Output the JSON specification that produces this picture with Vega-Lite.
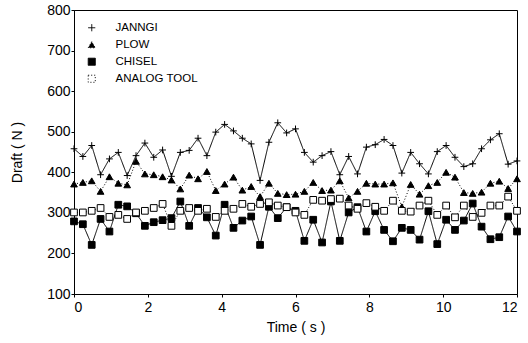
{
  "$schema": "https://vega.github.io/schema/vega-lite/v6.json",
  "width": 443,
  "height": 284,
  "autosize": "none",
  "padding": {"left": 74, "top": 10, "right": 11, "bottom": 49},
  "background": "white",
  "config": {
    "font": "Liberation Sans",
    "view": {"stroke": "black", "strokeWidth": 1},
    "axis": {
      "grid": false,
      "domainColor": "black",
      "tickColor": "black",
      "labelColor": "black",
      "titleColor": "black",
      "labelFont": "Liberation Sans",
      "titleFont": "Liberation Sans",
      "labelFontSize": 14,
      "titleFontSize": 14,
      "titleFontWeight": "normal",
      "tickSize": 3
    },
    "legend": {
      "title": null,
      "orient": "top-left",
      "offset": 10,
      "labelFont": "Liberation Sans",
      "labelFontSize": 11.5,
      "labelColor": "black",
      "symbolStrokeColor": "black",
      "symbolStrokeWidth": 1,
      "symbolSize": 50,
      "rowPadding": 4,
      "labelOffset": 18,
      "padding": 2
    }
  },
  "data": {
    "values": [
      {"t":0,"s":"JANNGI","v":458},{"t":0.24,"s":"JANNGI","v":439},{"t":0.48,"s":"JANNGI","v":466},{"t":0.72,"s":"JANNGI","v":394},{"t":0.96,"s":"JANNGI","v":433},{"t":1.2,"s":"JANNGI","v":449},{"t":1.44,"s":"JANNGI","v":392},{"t":1.68,"s":"JANNGI","v":441},{"t":1.92,"s":"JANNGI","v":472},{"t":2.16,"s":"JANNGI","v":437},{"t":2.4,"s":"JANNGI","v":455},{"t":2.64,"s":"JANNGI","v":390},{"t":2.88,"s":"JANNGI","v":449},{"t":3.12,"s":"JANNGI","v":454},{"t":3.36,"s":"JANNGI","v":484},{"t":3.6,"s":"JANNGI","v":441},{"t":3.84,"s":"JANNGI","v":499},{"t":4.08,"s":"JANNGI","v":518},{"t":4.32,"s":"JANNGI","v":502},{"t":4.56,"s":"JANNGI","v":484},{"t":4.8,"s":"JANNGI","v":470},{"t":5.04,"s":"JANNGI","v":380},{"t":5.28,"s":"JANNGI","v":474},{"t":5.52,"s":"JANNGI","v":522},{"t":5.76,"s":"JANNGI","v":497},{"t":6,"s":"JANNGI","v":507},{"t":6.24,"s":"JANNGI","v":449},{"t":6.48,"s":"JANNGI","v":425},{"t":6.72,"s":"JANNGI","v":441},{"t":6.96,"s":"JANNGI","v":451},{"t":7.2,"s":"JANNGI","v":394},{"t":7.44,"s":"JANNGI","v":439},{"t":7.68,"s":"JANNGI","v":396},{"t":7.92,"s":"JANNGI","v":462},{"t":8.16,"s":"JANNGI","v":468},{"t":8.4,"s":"JANNGI","v":481},{"t":8.64,"s":"JANNGI","v":466},{"t":8.88,"s":"JANNGI","v":398},{"t":9.12,"s":"JANNGI","v":449},{"t":9.36,"s":"JANNGI","v":421},{"t":9.6,"s":"JANNGI","v":396},{"t":9.84,"s":"JANNGI","v":451},{"t":10.08,"s":"JANNGI","v":466},{"t":10.32,"s":"JANNGI","v":437},{"t":10.56,"s":"JANNGI","v":414},{"t":10.8,"s":"JANNGI","v":421},{"t":11.04,"s":"JANNGI","v":458},{"t":11.28,"s":"JANNGI","v":480},{"t":11.52,"s":"JANNGI","v":495},{"t":11.76,"s":"JANNGI","v":420},{"t":12,"s":"JANNGI","v":428},
      {"t":0,"s":"PLOW","v":371},{"t":0.24,"s":"PLOW","v":375},{"t":0.48,"s":"PLOW","v":379},{"t":0.72,"s":"PLOW","v":353},{"t":0.96,"s":"PLOW","v":389},{"t":1.2,"s":"PLOW","v":373},{"t":1.44,"s":"PLOW","v":369},{"t":1.68,"s":"PLOW","v":427},{"t":1.92,"s":"PLOW","v":396},{"t":2.16,"s":"PLOW","v":394},{"t":2.4,"s":"PLOW","v":389},{"t":2.64,"s":"PLOW","v":381},{"t":2.88,"s":"PLOW","v":359},{"t":3.12,"s":"PLOW","v":393},{"t":3.36,"s":"PLOW","v":384},{"t":3.6,"s":"PLOW","v":402},{"t":3.84,"s":"PLOW","v":355},{"t":4.08,"s":"PLOW","v":371},{"t":4.32,"s":"PLOW","v":388},{"t":4.56,"s":"PLOW","v":356},{"t":4.8,"s":"PLOW","v":365},{"t":5.04,"s":"PLOW","v":340},{"t":5.28,"s":"PLOW","v":373},{"t":5.52,"s":"PLOW","v":348},{"t":5.76,"s":"PLOW","v":345},{"t":6,"s":"PLOW","v":346},{"t":6.24,"s":"PLOW","v":353},{"t":6.48,"s":"PLOW","v":375},{"t":6.72,"s":"PLOW","v":355},{"t":6.96,"s":"PLOW","v":356},{"t":7.2,"s":"PLOW","v":379},{"t":7.44,"s":"PLOW","v":337},{"t":7.68,"s":"PLOW","v":353},{"t":7.92,"s":"PLOW","v":373},{"t":8.16,"s":"PLOW","v":371},{"t":8.4,"s":"PLOW","v":371},{"t":8.64,"s":"PLOW","v":374},{"t":8.88,"s":"PLOW","v":315},{"t":9.12,"s":"PLOW","v":370},{"t":9.36,"s":"PLOW","v":346},{"t":9.6,"s":"PLOW","v":367},{"t":9.84,"s":"PLOW","v":375},{"t":10.08,"s":"PLOW","v":400},{"t":10.32,"s":"PLOW","v":388},{"t":10.56,"s":"PLOW","v":350},{"t":10.8,"s":"PLOW","v":348},{"t":11.04,"s":"PLOW","v":351},{"t":11.28,"s":"PLOW","v":373},{"t":11.52,"s":"PLOW","v":378},{"t":11.76,"s":"PLOW","v":360},{"t":12,"s":"PLOW","v":384},
      {"t":0,"s":"CHISEL","v":279},{"t":0.24,"s":"CHISEL","v":272},{"t":0.48,"s":"CHISEL","v":221},{"t":0.72,"s":"CHISEL","v":285},{"t":0.96,"s":"CHISEL","v":254},{"t":1.2,"s":"CHISEL","v":320},{"t":1.44,"s":"CHISEL","v":316},{"t":1.68,"s":"CHISEL","v":299},{"t":1.92,"s":"CHISEL","v":268},{"t":2.16,"s":"CHISEL","v":277},{"t":2.4,"s":"CHISEL","v":282},{"t":2.64,"s":"CHISEL","v":287},{"t":2.88,"s":"CHISEL","v":328},{"t":3.12,"s":"CHISEL","v":268},{"t":3.36,"s":"CHISEL","v":312},{"t":3.6,"s":"CHISEL","v":289},{"t":3.84,"s":"CHISEL","v":244},{"t":4.08,"s":"CHISEL","v":320},{"t":4.32,"s":"CHISEL","v":263},{"t":4.56,"s":"CHISEL","v":281},{"t":4.8,"s":"CHISEL","v":291},{"t":5.04,"s":"CHISEL","v":221},{"t":5.28,"s":"CHISEL","v":315},{"t":5.52,"s":"CHISEL","v":287},{"t":5.76,"s":"CHISEL","v":314},{"t":6,"s":"CHISEL","v":305},{"t":6.24,"s":"CHISEL","v":231},{"t":6.48,"s":"CHISEL","v":283},{"t":6.72,"s":"CHISEL","v":227},{"t":6.96,"s":"CHISEL","v":328},{"t":7.2,"s":"CHISEL","v":231},{"t":7.44,"s":"CHISEL","v":301},{"t":7.68,"s":"CHISEL","v":314},{"t":7.92,"s":"CHISEL","v":254},{"t":8.16,"s":"CHISEL","v":304},{"t":8.4,"s":"CHISEL","v":258},{"t":8.64,"s":"CHISEL","v":230},{"t":8.88,"s":"CHISEL","v":263},{"t":9.12,"s":"CHISEL","v":258},{"t":9.36,"s":"CHISEL","v":234},{"t":9.6,"s":"CHISEL","v":304},{"t":9.84,"s":"CHISEL","v":223},{"t":10.08,"s":"CHISEL","v":283},{"t":10.32,"s":"CHISEL","v":258},{"t":10.56,"s":"CHISEL","v":281},{"t":10.8,"s":"CHISEL","v":323},{"t":11.04,"s":"CHISEL","v":266},{"t":11.28,"s":"CHISEL","v":235},{"t":11.52,"s":"CHISEL","v":240},{"t":11.76,"s":"CHISEL","v":291},{"t":12,"s":"CHISEL","v":254},
      {"t":0,"s":"ANALOG TOOL","v":301},{"t":0.24,"s":"ANALOG TOOL","v":301},{"t":0.48,"s":"ANALOG TOOL","v":305},{"t":0.72,"s":"ANALOG TOOL","v":312},{"t":0.96,"s":"ANALOG TOOL","v":290},{"t":1.2,"s":"ANALOG TOOL","v":295},{"t":1.44,"s":"ANALOG TOOL","v":285},{"t":1.68,"s":"ANALOG TOOL","v":301},{"t":1.92,"s":"ANALOG TOOL","v":305},{"t":2.16,"s":"ANALOG TOOL","v":312},{"t":2.4,"s":"ANALOG TOOL","v":322},{"t":2.64,"s":"ANALOG TOOL","v":268},{"t":2.88,"s":"ANALOG TOOL","v":305},{"t":3.12,"s":"ANALOG TOOL","v":312},{"t":3.36,"s":"ANALOG TOOL","v":305},{"t":3.6,"s":"ANALOG TOOL","v":310},{"t":3.84,"s":"ANALOG TOOL","v":290},{"t":4.08,"s":"ANALOG TOOL","v":305},{"t":4.32,"s":"ANALOG TOOL","v":310},{"t":4.56,"s":"ANALOG TOOL","v":322},{"t":4.8,"s":"ANALOG TOOL","v":315},{"t":5.04,"s":"ANALOG TOOL","v":322},{"t":5.28,"s":"ANALOG TOOL","v":326},{"t":5.52,"s":"ANALOG TOOL","v":318},{"t":5.76,"s":"ANALOG TOOL","v":314},{"t":6,"s":"ANALOG TOOL","v":301},{"t":6.24,"s":"ANALOG TOOL","v":295},{"t":6.48,"s":"ANALOG TOOL","v":332},{"t":6.72,"s":"ANALOG TOOL","v":330},{"t":6.96,"s":"ANALOG TOOL","v":334},{"t":7.2,"s":"ANALOG TOOL","v":335},{"t":7.44,"s":"ANALOG TOOL","v":318},{"t":7.68,"s":"ANALOG TOOL","v":310},{"t":7.92,"s":"ANALOG TOOL","v":324},{"t":8.16,"s":"ANALOG TOOL","v":315},{"t":8.4,"s":"ANALOG TOOL","v":305},{"t":8.64,"s":"ANALOG TOOL","v":330},{"t":8.88,"s":"ANALOG TOOL","v":305},{"t":9.12,"s":"ANALOG TOOL","v":303},{"t":9.36,"s":"ANALOG TOOL","v":318},{"t":9.6,"s":"ANALOG TOOL","v":330},{"t":9.84,"s":"ANALOG TOOL","v":295},{"t":10.08,"s":"ANALOG TOOL","v":318},{"t":10.32,"s":"ANALOG TOOL","v":289},{"t":10.56,"s":"ANALOG TOOL","v":318},{"t":10.8,"s":"ANALOG TOOL","v":290},{"t":11.04,"s":"ANALOG TOOL","v":300},{"t":11.28,"s":"ANALOG TOOL","v":318},{"t":11.52,"s":"ANALOG TOOL","v":318},{"t":11.76,"s":"ANALOG TOOL","v":340},{"t":12,"s":"ANALOG TOOL","v":305}
    ]
  },
  "encoding": {
    "x": {
      "field": "t", "type": "quantitative",
      "scale": {"domain": [0, 12], "nice": false},
      "axis": {"title": "Time ( s )", "values": [0, 2, 4, 6, 8, 10, 12], "labelPadding": 3, "titlePadding": 6}
    },
    "y": {
      "field": "v", "type": "quantitative",
      "scale": {"domain": [100, 800], "nice": false, "zero": false},
      "axis": {"title": "Draft ( N )", "values": [100, 200, 300, 400, 500, 600, 700, 800], "labelPadding": 1, "titlePadding": 22}
    }
  },
  "layer": [
    {
      "mark": {"type": "line", "color": "black", "strokeWidth": 1},
      "encoding": {
        "strokeDash": {
          "field": "s", "type": "nominal",
          "scale": {"domain": ["JANNGI", "PLOW", "CHISEL", "ANALOG TOOL"], "range": [[1, 0], [1, 2], [1, 0], [1, 2]]},
          "legend": {"encode": {"symbols": {"update": {"stroke": {"value": "black"}, "strokeWidth": {"value": 1}, "strokeDash": {"value": [1, 0]}}}}}
        }
      }
    },
    {
      "mark": {"type": "point", "filled": true, "stroke": "black", "strokeWidth": 1, "opacity": 1},
      "encoding": {
        "shape": {
          "field": "s", "type": "nominal",
          "scale": {"domain": ["JANNGI", "PLOW", "CHISEL", "ANALOG TOOL"], "range": ["M-1,0L1,0M0,-1L0,1", "triangle-up", "square", "square"]},
          "legend": {"encode": {"symbols": {"update": {"stroke": {"value": "black"}, "strokeWidth": {"value": 1}, "strokeDash": {"value": [1, 0]}}}}}
        },
        "fill": {
          "field": "s", "type": "nominal",
          "scale": {"domain": ["JANNGI", "PLOW", "CHISEL", "ANALOG TOOL"], "range": ["black", "black", "black", "white"]},
          "legend": {"encode": {"symbols": {"update": {"stroke": {"value": "black"}, "strokeWidth": {"value": 1}, "strokeDash": {"value": [1, 0]}}}}}
        },
        "size": {"value": 45}
      }
    }
  ]
}
